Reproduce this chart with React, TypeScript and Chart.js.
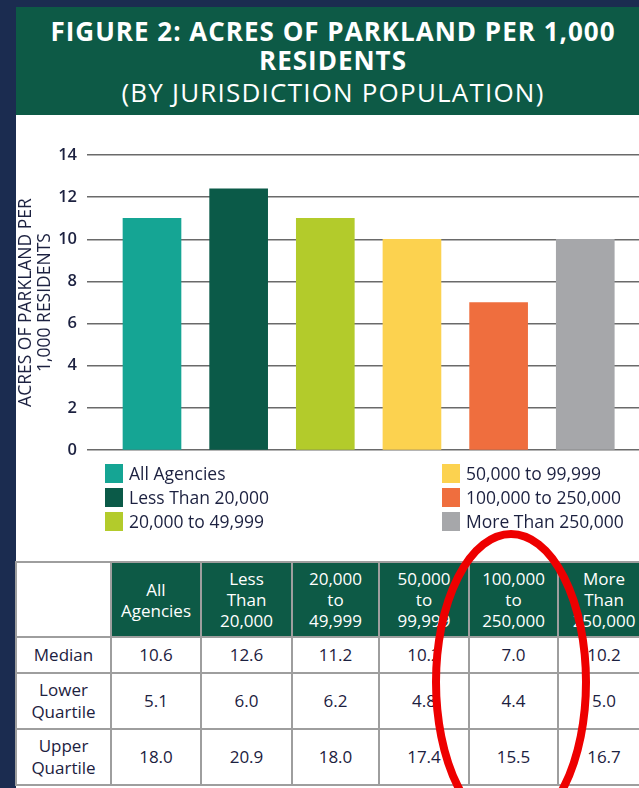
import React, { useEffect, useRef } from "react";
import { Chart, registerables } from "chart.js";

Chart.register(...registerables);

// ---- data ----
const categories = [
  "All Agencies",
  "Less Than 20,000",
  "20,000 to 49,999",
  "50,000 to 99,999",
  "100,000 to 250,000",
  "More Than 250,000",
];
const barValues = [11.0, 12.4, 11.0, 10.0, 7.0, 10.0];
const barColors = ["#15a594", "#0b5a48", "#b3cb2b", "#fcd24f", "#ef6e3e", "#a6a7aa"];
const yAxisTitle = ["ACRES OF PARKLAND PER", "1,000 RESIDENTS"];
const tableHeaders = [
  ["All", "Agencies"],
  ["Less", "Than", "20,000"],
  ["20,000", "to", "49,999"],
  ["50,000", "to", "99,999"],
  ["100,000", "to", "250,000"],
  ["More", "Than", "250,000"],
];
const rowLabels = [["Median"], ["Lower", "Quartile"], ["Upper", "Quartile"]];
const medianValues = ["10.6", "12.6", "11.2", "10.2", "7.0", "10.2"];
const lowerQuartile = ["5.1", "6.0", "6.2", "4.8", "4.4", "5.0"];
const upperQuartile = ["18.0", "20.9", "18.0", "17.4", "15.5", "16.7"];
const tableRows = [medianValues, lowerQuartile, upperQuartile];

// ---- layout / style ----
const FONT = "'Open Sans', sans-serif";
const NAVY = "#1b2c50";
const GREEN = "#0d5a46";
const TEXT = "#1c2140";
const colEdges = [16, 111, 201, 292, 379, 469, 558, 650];
const rowEdges = [562, 637, 673, 729, 785];

export default function App() {
  const ref = useRef<HTMLCanvasElement>(null);

  useEffect(() => {
    const chart = new Chart(ref.current!, {
      type: "bar",
      data: {
        labels: categories,
        datasets: [
          {
            label: "Acres per 1,000 residents",
            data: barValues.map((v, i) => ({ x: i, y: v })),
            backgroundColor: barColors,
            borderWidth: 0,
            barThickness: 58,
          },
        ],
      },
      options: {
        animation: false,
        responsive: false,
        maintainAspectRatio: false,
        layout: { padding: { top: 25, bottom: 11, left: 0, right: 0 } },
        plugins: { legend: { display: false }, tooltip: { enabled: false } },
        scales: {
          x: { type: "linear", min: -0.75, max: 5.62, display: false, offset: false },
          y: {
            min: 0,
            max: 14,
            ticks: {
              stepSize: 2,
              padding: 10,
              color: TEXT,
              font: { family: FONT, size: 16.5, weight: "600" },
            },
            grid: { color: "#6a6a6a", lineWidth: 1.6, drawTicks: false },
            border: { display: false },
            title: {
              display: true,
              text: yAxisTitle,
              color: TEXT,
              font: { family: FONT, size: 17.5, lineHeight: 1.06 },
              padding: { top: 1, bottom: 0 },
            },
            afterFit: (s: any) => {
              s.width = 71;
            },
          },
        },
      },
    });
    return () => chart.destroy();
  }, []);

  const legendLeft = categories.slice(0, 3);
  const legendRight = categories.slice(3);

  return (
    <div
      style={{
        position: "fixed",
        left: 0,
        top: 0,
        width: 639,
        height: 788,
        background: NAVY,
        overflow: "hidden",
        fontFamily: FONT,
      }}
    >
      {/* white panel */}
      <div style={{ position: "absolute", left: 16, top: 110, width: 640, height: 700, background: "#ffffff" }} />
      {/* title box */}
      <div
        style={{
          position: "absolute",
          left: 16,
          top: 7,
          width: 634,
          height: 108,
          background: GREEN,
          color: "#ffffff",
          textAlign: "center",
          boxSizing: "border-box",
          paddingTop: 10,
          lineHeight: "29px",
          fontSize: 26,
          letterSpacing: 1,
          whiteSpace: "nowrap",
        }}
      >
        <div style={{ fontWeight: 700 }}>FIGURE 2: ACRES OF PARKLAND PER 1,000</div>
        <div style={{ fontWeight: 700 }}>RESIDENTS</div>
        <div style={{ fontWeight: 400, letterSpacing: 1.2, marginTop: 3 }}>(BY JURISDICTION POPULATION)</div>
      </div>

      {/* chart */}
      <canvas
        ref={ref}
        width={623}
        height={340}
        style={{ position: "absolute", left: 16, top: 130, width: 623, height: 340 }}
      />

      {/* legend */}
      {[legendLeft, legendRight].map((col, ci) =>
        col.map((name, ri) => {
          const idx = ci * 3 + ri;
          const sx = ci === 0 ? 105 : 442;
          return (
            <div
              key={name}
              style={{
                position: "absolute",
                left: sx,
                top: 464 + ri * 24,
                height: 19,
                display: "flex",
                alignItems: "center",
                whiteSpace: "nowrap",
              }}
            >
              <div style={{ width: 18, height: 19, background: barColors[idx], marginRight: 6 }} />
              <span style={{ fontSize: 17.5, color: TEXT, lineHeight: "19px" }}>{name}</span>
            </div>
          );
        })
      )}

      {/* table */}
      <div
        style={{
          position: "absolute",
          left: colEdges[0] - 1,
          top: rowEdges[0] - 1,
          width: colEdges[7] - colEdges[0] + 2,
          height: rowEdges[4] - rowEdges[0] + 2,
          background: "#9e9e9e",
        }}
      />
      {rowEdges.slice(0, 4).map((top, r) =>
        colEdges.slice(0, 7).map((left, c) => {
          const w = colEdges[c + 1] - left;
          const h = rowEdges[r + 1] - top;
          const header = r === 0 && c > 0;
          let lines: string[] = [];
          if (r === 0) lines = c === 0 ? [] : tableHeaders[c - 1];
          else if (c === 0) lines = rowLabels[r - 1];
          else lines = [tableRows[r - 1][c - 1]];
          return (
            <div
              key={`${r}-${c}`}
              style={{
                position: "absolute",
                left: left + 1,
                top: top + 1,
                width: w - 2,
                height: h - 2,
                background: header ? GREEN : "#ffffff",
                color: header ? "#ffffff" : TEXT,
                display: "flex",
                flexDirection: "column",
                justifyContent: "center",
                alignItems: "center",
                fontSize: 17,
                lineHeight: r === 0 ? "21px" : "22px",
                textAlign: "center",
              }}
            >
              {lines.map((t, i) => (
                <div key={i}>{t}</div>
              ))}
            </div>
          );
        })
      )}

      {/* red annotation ellipse */}
      <svg width={639} height={788} style={{ position: "absolute", left: 0, top: 0 }}>
        <ellipse cx={511} cy={682} rx={75} ry={148} fill="none" stroke="#ee0000" strokeWidth={8} />
      </svg>
    </div>
  );
}
